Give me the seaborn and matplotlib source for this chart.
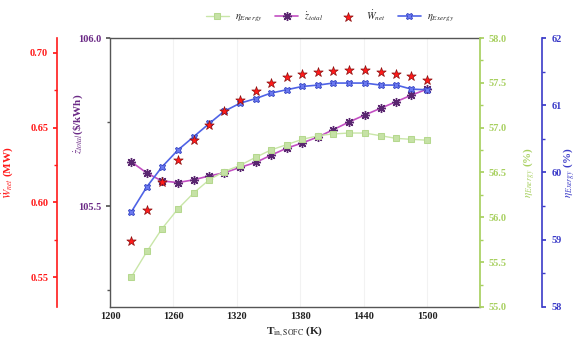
import numpy as np
import pandas as pd
import matplotlib
matplotlib.use("Agg")
import matplotlib.pyplot as plt
import seaborn as sns
from matplotlib.ticker import MultipleLocator, AutoMinorLocator, FormatStrFormatter

# ---- data ----
T_in = [1220, 1235, 1249, 1264, 1279, 1294, 1308, 1323, 1338, 1352,
        1367, 1382, 1397, 1411, 1426, 1441, 1456, 1471, 1485, 1500]
eta_energy = [55.33, 55.62, 55.87, 56.09, 56.27, 56.42, 56.51, 56.58, 56.67, 56.75,
              56.81, 56.87, 56.91, 56.93, 56.94, 56.94, 56.91, 56.88, 56.87, 56.86]
z_total = [105.632, 105.598, 105.575, 105.570, 105.578, 105.590, 105.599, 105.615, 105.630, 105.651,
           105.672, 105.688, 105.706, 105.727, 105.750, 105.771, 105.791, 105.811, 105.830, 105.848]
W_net = [0.5742, 0.5951, 0.6135, 0.6285, 0.6418, 0.6520, 0.6613, 0.6685, 0.6747, 0.6798,
         0.6840, 0.6857, 0.6870, 0.6880, 0.6883, 0.6883, 0.6873, 0.6860, 0.6847, 0.6820]
eta_exergy = [59.41, 59.79, 60.08, 60.33, 60.53, 60.73, 60.91, 61.03, 61.10, 61.18,
              61.23, 61.28, 61.30, 61.33, 61.33, 61.33, 61.30, 61.30, 61.24, 61.23]

x_ticks = [1200, 1260, 1320, 1380, 1440, 1500]

df = pd.DataFrame({"T": T_in, "eta_en": eta_energy, "z": z_total,
                   "W": W_net, "eta_ex": eta_exergy})

sns.set_theme(style="white")
plt.rcParams['font.family'] = ['Liberation Serif', 'DejaVu Serif']
plt.rcParams['mathtext.fontset'] = 'stix'

C_RED = "#ff1a1a"
C_PUR = "#6b2a86"
C_PUR_LINE = "#c24fc2"
C_GRN = "#a8d060"
C_GRN_LINE = "#c9e6a8"
C_BLU = "#3b3bc8"
C_BLU_LINE = "#4f63e6"
C_FRAME = "#555555"

fig = plt.figure(figsize=(5.79, 3.52), dpi=100)
ax = fig.add_axes([0.19, 0.128, 0.639, 0.764])
ax_g = ax.twinx()
ax_b = ax.twinx()
ax_r = ax.twinx()

# ---- series ----
sns.lineplot(data=df, x="T", y="eta_en", ax=ax_g, color=C_GRN_LINE, marker="s",
             markersize=4.5, markerfacecolor="#c6e2a6", markeredgecolor="#b5d88e",
             linewidth=1.0, label=r"$\eta_{Energy}$", legend=False)
sns.lineplot(data=df, x="T", y="z", ax=ax, color=C_PUR_LINE, marker=(8, 2, 0),
             markersize=6.5, markeredgecolor="#5a2670", markeredgewidth=1.0,
             linewidth=1.2, label=r"$\dot{z}_{total}$", legend=False)
sns.scatterplot(data=df, x="T", y="W", ax=ax_r, color=C_RED, marker="*", s=50,
                edgecolor="#8a1010", linewidth=0.5, label=r"$\dot{W}_{net}$", legend=False)
sns.lineplot(data=df, x="T", y="eta_ex", ax=ax_b, color=C_BLU_LINE, marker="X",
             markersize=5, markerfacecolor="#6a78f0", markeredgecolor="#3040c0",
             markeredgewidth=0.6, linewidth=1.2, label=r"$\eta_{Exergy}$", legend=False)

# ---- x axis ----
ax.set_xlim(1200, 1550)
ax.set_xticks(x_ticks)
ax.xaxis.set_minor_locator(MultipleLocator(30))
ax.set_xlabel(r"T$_{\mathrm{in,SOFC}}$ (K)", fontsize=8, fontweight="bold", labelpad=3)
ax.tick_params(axis="x", which="both", direction="in", colors=C_FRAME, labelcolor="#222222",
               labelsize=7.5, length=3)
ax.tick_params(axis="x", which="minor", length=2)
for lbl in ax.get_xticklabels():
    lbl.set_fontweight("bold")
ax.grid(axis="x", color="#f2f2f2", linewidth=0.8)

# ---- purple (main, left) ----
ax.set_ylim(105.2, 106.0)
ax.yaxis.set_major_locator(MultipleLocator(0.5))
ax.yaxis.set_minor_locator(MultipleLocator(0.25))
ax.yaxis.set_major_formatter(FormatStrFormatter("%.1f"))
ax.set_ylabel(r"$\dot{z}_{total}$(\$/kWh)", color=C_PUR, fontsize=8, fontweight="bold")
ax.yaxis.set_label_coords(-0.068, 0.68)
ax.tick_params(axis="y", which="both", direction="out", colors=C_FRAME, labelcolor=C_PUR,
               labelsize=7.5, length=3)
ax.tick_params(axis="y", which="minor", length=2)
for lbl in ax.get_yticklabels():
    lbl.set_fontweight("bold")
for s in ["left", "top", "bottom"]:
    ax.spines[s].set_color(C_FRAME)
    ax.spines[s].set_linewidth(1.0)
ax.spines["right"].set_visible(False)

# ---- green (right) ----
ax_g.set_ylim(55.0, 58.0)
ax_g.yaxis.set_major_locator(MultipleLocator(0.5))
ax_g.yaxis.set_minor_locator(MultipleLocator(0.25))
ax_g.yaxis.set_major_formatter(FormatStrFormatter("%.1f"))
ax_g.set_ylabel(r"$\eta_{Energy}$ (%)", color=C_GRN, fontsize=8, fontweight="bold")
ax_g.yaxis.set_label_coords(1.11, 0.5)
ax_g.tick_params(axis="y", which="both", direction="out", colors=C_GRN, labelsize=7.5, length=3)
ax_g.tick_params(axis="y", which="minor", length=2)
for lbl in ax_g.get_yticklabels():
    lbl.set_fontweight("bold")
for s in ["left", "top", "bottom"]:
    ax_g.spines[s].set_visible(False)
ax_g.spines["right"].set_color(C_GRN)

# ---- blue (far right) ----
ax_b.set_ylim(58, 62)
ax_b.yaxis.set_major_locator(MultipleLocator(1))
ax_b.yaxis.set_minor_locator(MultipleLocator(0.5))
ax_b.spines["right"].set_position(("outward", 45))
ax_b.set_ylabel(r"$\eta_{Exergy}$ (%)", color=C_BLU, fontsize=8, fontweight="bold")
ax_b.yaxis.set_label_coords(1.218, 0.5)
ax_b.tick_params(axis="y", which="both", direction="out", colors=C_BLU, labelsize=7.5, length=3)
ax_b.tick_params(axis="y", which="minor", length=2)
for lbl in ax_b.get_yticklabels():
    lbl.set_fontweight("bold")
for s in ["left", "top", "bottom"]:
    ax_b.spines[s].set_visible(False)
ax_b.spines["right"].set_color(C_BLU)
ax_b.spines["right"].set_linewidth(1.2)

# ---- red (far left) ----
ax_r.set_ylim(0.53, 0.71)
ax_r.yaxis.set_major_locator(MultipleLocator(0.05))
ax_r.yaxis.set_minor_locator(MultipleLocator(0.025))
ax_r.yaxis.set_major_formatter(FormatStrFormatter("%.2f"))
ax_r.yaxis.tick_left()
ax_r.yaxis.set_label_position("left")
ax_r.spines["left"].set_position(("outward", 38))
ax_r.set_ylabel(r"$\dot{W}_{net}$ (MW)", color=C_RED, fontsize=8, fontweight="bold")
ax_r.yaxis.set_label_coords(-0.257, 0.5)
ax_r.tick_params(axis="y", which="both", direction="out", colors=C_RED, labelsize=7.5, length=3)
ax_r.tick_params(axis="y", which="minor", length=2)
for lbl in ax_r.get_yticklabels():
    lbl.set_fontweight("bold")
for s in ["right", "top", "bottom"]:
    ax_r.spines[s].set_visible(False)
ax_r.spines["left"].set_color(C_RED)
ax_r.spines["left"].set_linewidth(1.2)

for a in (ax_g, ax_b, ax_r):
    a.set_xlabel("")
    a.xaxis.set_visible(False)

# ---- legend ----
handles = [ax_g.lines[0], ax.lines[0], ax_r.collections[0], ax_b.lines[0]]
labels = [r"$\eta_{Energy}$", r"$\dot{z}_{total}$", r"$\dot{W}_{net}$", r"$\eta_{Exergy}$"]
fig.legend(handles, labels, loc="center", bbox_to_anchor=(0.57, 0.955), ncol=4,
           frameon=False, fontsize=7.5, handlelength=2.2, columnspacing=1.2, handletextpad=0.6)

fig.savefig("out.png", dpi=100)
